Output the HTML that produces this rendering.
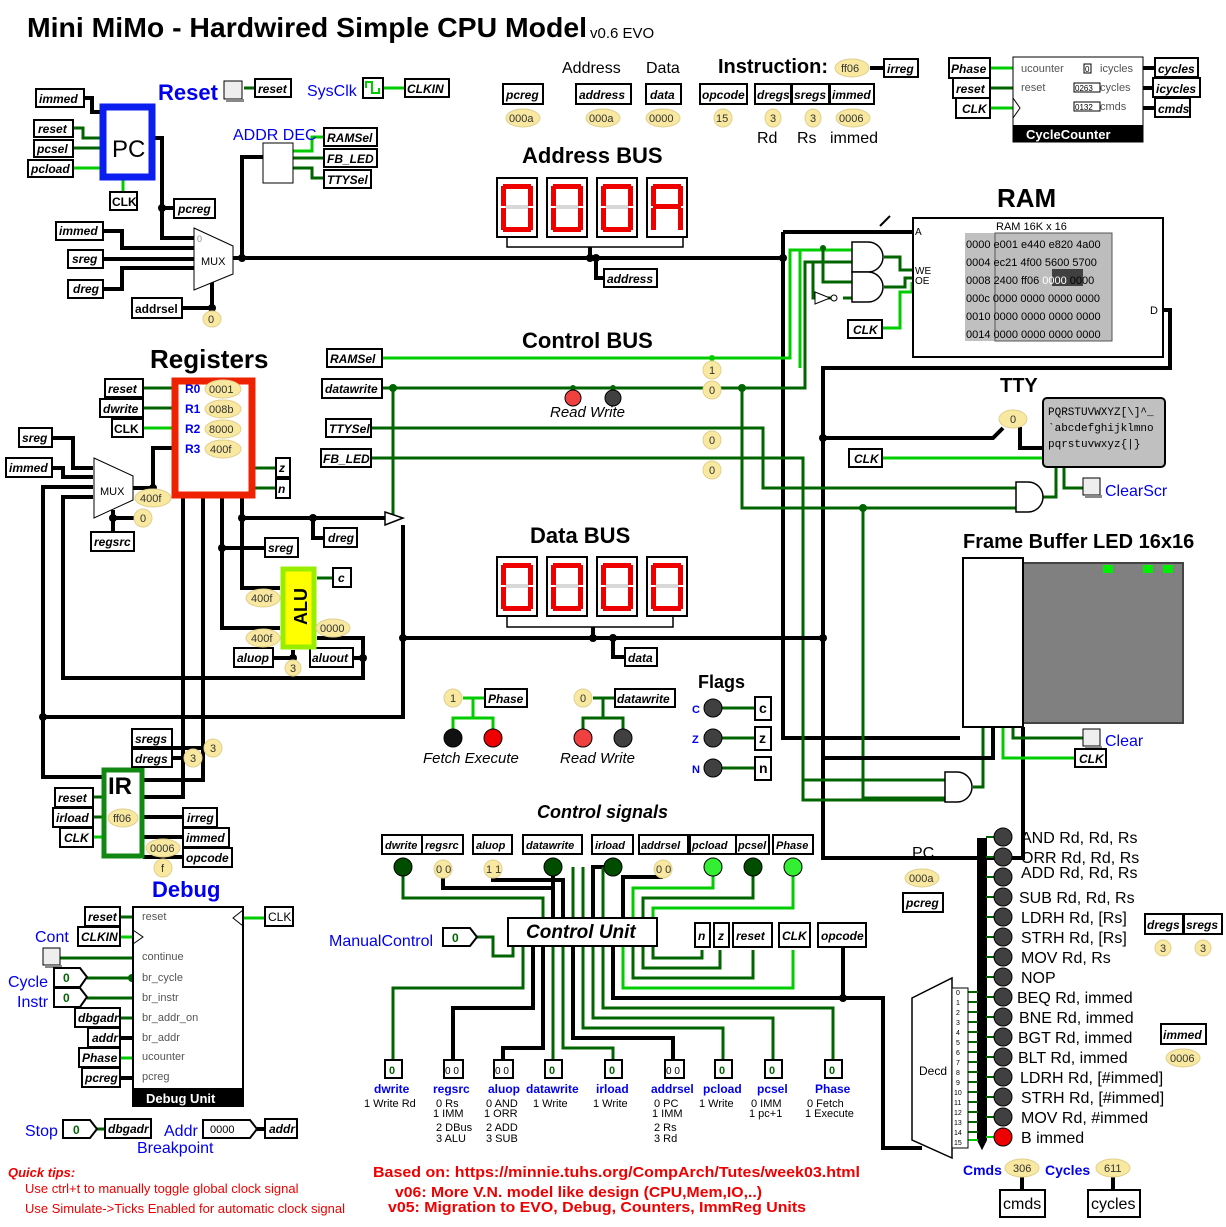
<!DOCTYPE html>
<html><head><meta charset="utf-8"><style>
body{margin:0;background:#fff}
svg{display:block;font-family:"Liberation Sans",sans-serif}
.t{fill:#fff;stroke:#000;stroke-width:2}
.tt{font-style:italic;font-weight:bold;font-size:12px}
.p{fill:#f8e8a0;stroke:#e0d090;stroke-width:1}
.pt{font-size:11px;fill:#333}
.b{stroke:#000;stroke-width:4;fill:none}
.g{stroke:#006400;stroke-width:3;fill:none}
.G{stroke:#00cc00;stroke-width:3;fill:none}
.seg{fill:#ee0000}
.segoff{fill:#d8d8d8}
</style></head><body>
<svg width="1226" height="1227" viewBox="0 0 1226 1227" xmlns="http://www.w3.org/2000/svg">
<!-- Title -->
<text x="27" y="37" font-size="28" font-weight="bold" textLength="560" lengthAdjust="spacingAndGlyphs">Mini MiMo - Hardwired Simple CPU Model</text>
<text x="590" y="38" font-size="15">v0.6 EVO</text>

<!-- ===== WIRES ===== -->
<polyline class="b" points="84,98 92,98 92,112 102,112"/>
<polyline class="g" points="73,128 83,128 83,138 102,138"/>
<polyline class="g" points="73,148 102,148"/>
<polyline class="G" points="73,168 102,168"/>
<polyline class="G" points="123,192 123,172"/>
<polyline class="b" points="155,138 162,138 162,238 196,238"/>
<line class="b" x1="162" y1="208" x2="174" y2="208"/>
<circle cx="162" cy="208" r="4"/>
<polyline class="b" points="103,231 122,231 122,248 196,248"/>
<polyline class="b" points="103,259 196,259"/>
<polyline class="b" points="103,289 122,289 122,268 196,268"/>
<polyline class="b" points="182,308 212,308 212,282"/>
<circle cx="212" cy="308" r="4"/>
<line class="b" x1="233" y1="258" x2="785" y2="258"/>
<circle cx="242" cy="258" r="4"/>
<polyline class="b" points="242,258 242,157 264,157"/>
<polyline class="G" points="292,151 312,151 312,137 324,137"/>
<polyline class="g" points="292,158 324,158"/>
<polyline class="g" points="292,168 312,168 312,178 324,178"/>
<line class="g" x1="244" y1="88" x2="255" y2="88"/>
<line class="G" x1="383" y1="88" x2="405" y2="88"/>
<polyline points="507,237 507,247 683,247 683,237" fill="none" stroke="#000" stroke-width="1.5"/>
<polyline class="b" points="590,247 590,258"/>
<polyline class="b" points="596,258 596,278 604,278"/>
<circle cx="590" cy="258" r="4"/><circle cx="596" cy="258" r="4"/>
<circle cx="783" cy="258" r="4"/>
<polyline class="b" points="783,232 783,738 960,738"/>
<polyline class="b" points="783,232 912,232"/>
<line x1="880" y1="226" x2="890" y2="216" stroke="#000" stroke-width="2"/>
<polyline class="b" points="1163,310 1170,310 1170,368 823,368 823,858 1023,858 1023,727"/>
<polyline class="b" points="823,438 993,438 1003,428"/>
<polyline class="b" points="1020,427 1020,448 1043,448"/>
<circle cx="823" cy="438" r="4"/><circle cx="823" cy="638" r="4"/>
<polyline class="G" points="382,358 790,358 790,250 852,250"/>
<polyline class="g" points="382,388 805,388 805,262 852,262"/>
<circle cx="712" cy="358" r="3" fill="#00cc00"/>
<circle cx="393" cy="388" r="4" fill="#006400"/>
<circle cx="573" cy="388" r="3" fill="#006400"/><circle cx="613" cy="388" r="3" fill="#006400"/>
<line class="g" x1="573" y1="388" x2="573" y2="398"/><line class="g" x1="613" y1="388" x2="613" y2="398"/>
<circle cx="742" cy="388" r="4" fill="#006400"/>
<polyline class="g" points="742,388 742,508 1016,508"/>
<polyline class="g" points="371,428 763,428 763,488 1016,488"/>
<polyline class="g" points="371,458 803,458 803,800 947,800"/>
<polyline class="g" points="393,388 393,518"/>
<polyline class="g" points="823,248 823,282 852,282"/>
<circle cx="823" cy="248" r="3" fill="#006400"/>
<polyline class="g" points="813,262 813,298 834,298"/>
<polyline class="g" points="843,298 852,298"/>
<polyline class="G" points="800,250 800,368" />
<polyline class="G" points="880,328 900,328 900,292 912,292 912,282"/>
<polyline class="g" points="884,257 900,257 900,270 912,270"/>
<polyline class="g" points="884,287 905,287 905,278 912,278"/>
<polyline class="G" points="882,458 1045,458"/>
<polyline class="g" points="1040,497 1056,497 1056,467"/>
<polyline class="g" points="1064,467 1064,488 1083,488"/>
<circle cx="863" cy="508" r="4" fill="#006400"/>
<polyline class="g" points="863,508 863,798 947,798"/>
<polyline class="g" points="803,780 947,780"/>
<polyline class="g" points="973,787 983,787 983,727"/>
<polyline class="b" points="993,727 993,758 823,758"/>
<polyline class="g" points="1013,727 1013,738 1083,738"/>
<polyline class="G" points="1003,727 1003,758 1075,758"/>
<line class="b" x1="403" y1="638" x2="823" y2="638"/>
<polyline points="507,617 507,627 673,627 673,617" fill="none" stroke="#000" stroke-width="1.5"/>
<polyline class="b" points="593,627 593,638"/>
<polyline class="b" points="613,638 613,657 625,657"/>
<circle cx="593" cy="638" r="4"/><circle cx="613" cy="638" r="4"/><circle cx="403" cy="638" r="4"/>
<polyline class="b" points="403,525 403,717 43,717 43,487 93,487"/>
<polyline class="b" points="43,717 43,777 102,777"/>
<circle cx="43" cy="717" r="4"/>
<polyline class="g" points="143,388 174,388"/>
<polyline class="g" points="143,408 174,408"/>
<polyline class="G" points="143,428 174,428"/>
<polyline class="b" points="52,438 73,438 73,468 93,468"/>
<polyline class="b" points="52,468 63,468 63,477 93,477"/>
<polyline class="b" points="133,488 153,488 153,448 174,448"/>
<circle cx="153" cy="488" r="4"/>
<polyline class="b" points="113,510 113,518 134,518"/><circle cx="113" cy="518" r="4"/>
<line class="b" x1="113" y1="518" x2="113" y2="532"/>
<polyline class="g" points="254,468 276,468"/><polyline class="g" points="254,488 276,488"/>
<line class="b" x1="183" y1="498" x2="183" y2="717"/>
<polyline class="b" points="203,498 203,748 172,748"/>
<polyline class="b" points="203,498 203,780 143,780"/>
<polyline class="b" points="183,717 183,758 172,758"/>
<polyline class="b" points="183,758 183,797 143,797"/>
<polyline class="b" points="222,498 222,548 265,548"/>
<polyline class="b" points="222,548 222,628 280,628"/>
<circle cx="222" cy="548" r="4"/>
<polyline class="b" points="242,498 242,518 385,518"/>
<polyline class="b" points="242,518 242,588 280,588"/>
<circle cx="242" cy="518" r="4"/><circle cx="313" cy="518" r="4"/>
<polyline class="b" points="313,518 313,538 324,538"/>
<polyline class="g" points="317,578 333,578"/>
<polyline class="b" points="317,638 363,638 363,678 63,678 63,497 93,497"/>
<line class="b" x1="353" y1="658" x2="363" y2="658"/><circle cx="363" cy="658" r="4"/>
<polyline class="b" points="273,658 293,658 293,650"/><circle cx="293" cy="658" r="4"/>
<polyline class="g" points="93,797 102,797"/>
<polyline class="g" points="93,817 102,817"/>
<polyline class="G" points="93,837 102,837"/>
<polyline class="b" points="143,817 183,817"/>
<polyline class="b" points="143,837 183,837"/>
<polyline class="b" points="143,857 183,857"/>
<line class="g" x1="120" y1="917" x2="132" y2="917"/>
<line class="G" x1="120" y1="937" x2="132" y2="937"/>
<line class="g" x1="60" y1="958" x2="132" y2="958"/>
<line class="g" x1="87" y1="978" x2="132" y2="978"/><circle cx="132" cy="978" r="4" fill="#006400"/>
<line class="g" x1="87" y1="998" x2="132" y2="998"/>
<line class="g" x1="120" y1="1018" x2="132" y2="1018"/>
<line class="b" x1="120" y1="1038" x2="132" y2="1038"/>
<line class="G" x1="120" y1="1058" x2="132" y2="1058"/>
<line class="b" x1="120" y1="1078" x2="132" y2="1078"/>
<line class="G" x1="243" y1="918" x2="265" y2="918"/>
<line class="g" x1="97" y1="1129" x2="105" y2="1129"/>
<line class="b" x1="257" y1="1129" x2="265" y2="1129"/>
<polyline class="G" points="463,698 485,698"/>
<polyline class="G" points="473,698 473,718 453,718 453,730"/>
<polyline class="G" points="473,718 493,718 493,730"/>
<polyline class="g" points="593,698 615,698"/>
<polyline class="g" points="603,698 603,718 583,718 583,730"/>
<polyline class="g" points="603,718 623,718 623,730"/>
<line class="g" x1="713" y1="708" x2="755" y2="708"/>
<line class="g" x1="713" y1="738" x2="755" y2="738"/>
<line class="g" x1="713" y1="768" x2="755" y2="768"/>
<polyline class="g" points="403,867 403,898 543,898 543,918"/>
<polyline class="b" points="443,867 443,888 553,888 553,918"/>
<polyline class="b" points="493,867 493,880 563,880 563,918"/>
<line class="b" x1="553" y1="867" x2="553" y2="918"/>
<polyline class="g" points="573,867 573,918"/>
<polyline class="g" points="583,867 583,918"/>
<polyline class="b" points="613,867 593,867 593,918"/>
<polyline class="g" points="603,867 603,918"/>
<polyline class="b" points="663,877 623,877 623,918"/>
<polyline class="G" points="713,875 713,888 633,888 633,918"/>
<polyline class="g" points="753,875 753,898 643,898 643,918"/>
<polyline class="G" points="793,875 793,908 653,908 653,918"/>
<polyline class="g" points="477,937 493,937 493,956 513,956 513,946"/>
<polyline class="g" points="523,946 523,988 393,988 393,1060"/>
<polyline class="b" points="533,946 533,1008 453,1008 453,1060"/>
<polyline class="b" points="543,946 543,1048 503,1048 503,1060"/>
<polyline class="g" points="553,946 553,1060"/>
<polyline class="g" points="563,946 563,1048 613,1048 613,1060"/>
<polyline class="b" points="573,946 573,1038 673,1038 673,1060"/>
<polyline class="g" points="583,946 583,1028 723,1028 723,1060"/>
<polyline class="g" points="593,946 593,1018 773,1018 773,1060"/>
<polyline class="g" points="603,946 603,1008 833,1008 833,1060"/>
<polyline class="b" points="613,946 613,998 883,998 883,1148 922,1148"/>
<polyline class="G" points="623,946 623,988 793,988 793,950"/>
<polyline class="g" points="633,946 633,978 753,978 753,950"/>
<polyline class="g" points="643,946 643,968 720,968 720,950"/>
<polyline class="g" points="653,946 653,958 702,958 702,950"/>
<polyline class="b" points="843,946 843,998"/><circle cx="843" cy="998" r="4"/>
<polyline points="978,838 978,1140 982,1148 986,1140 986,838" fill="#000" stroke="#000" stroke-width="2"/>
<g stroke="#006400" stroke-width="2">
<line x1="968" y1="992" x2="978" y2="992"/><line x1="968" y1="1002" x2="978" y2="1002"/><line x1="968" y1="1012" x2="978" y2="1012"/><line x1="968" y1="1022" x2="978" y2="1022"/><line x1="968" y1="1032" x2="978" y2="1032"/><line x1="968" y1="1042" x2="978" y2="1042"/><line x1="968" y1="1052" x2="978" y2="1052"/><line x1="968" y1="1062" x2="978" y2="1062"/><line x1="968" y1="1072" x2="978" y2="1072"/><line x1="968" y1="1082" x2="978" y2="1082"/><line x1="968" y1="1092" x2="978" y2="1092"/><line x1="968" y1="1102" x2="978" y2="1102"/><line x1="968" y1="1112" x2="978" y2="1112"/><line x1="968" y1="1122" x2="978" y2="1122"/><line x1="968" y1="1132" x2="978" y2="1132"/>
<line x1="986" y1="837" x2="1003" y2="837"/><line x1="986" y1="857" x2="1003" y2="857"/><line x1="986" y1="877" x2="1003" y2="877"/><line x1="986" y1="897" x2="1003" y2="897"/><line x1="986" y1="917" x2="1003" y2="917"/><line x1="986" y1="937" x2="1003" y2="937"/><line x1="986" y1="957" x2="1003" y2="957"/><line x1="986" y1="977" x2="1003" y2="977"/><line x1="986" y1="997" x2="1003" y2="997"/><line x1="986" y1="1017" x2="1003" y2="1017"/><line x1="986" y1="1037" x2="1003" y2="1037"/><line x1="986" y1="1057" x2="1003" y2="1057"/><line x1="986" y1="1077" x2="1003" y2="1077"/><line x1="986" y1="1097" x2="1003" y2="1097"/><line x1="986" y1="1117" x2="1003" y2="1117"/>
</g>
<line x1="968" y1="1140" x2="978" y2="1140" stroke="#00cc00" stroke-width="2"/>
<line x1="986" y1="1137" x2="1003" y2="1137" stroke="#00cc00" stroke-width="2"/>
<line class="b" x1="1022" y1="1176" x2="1022" y2="1190"/>
<line class="b" x1="1113" y1="1176" x2="1113" y2="1190"/>
<line class="b" x1="870" y1="68" x2="884" y2="68"/>
<line class="G" x1="990" y1="68" x2="1013" y2="68"/>
<line class="g" x1="990" y1="88" x2="1013" y2="88"/>
<line class="G" x1="990" y1="108" x2="1013" y2="108"/>
<line class="b" x1="1143" y1="68" x2="1155" y2="68"/>
<line class="b" x1="1143" y1="88" x2="1153" y2="88"/>
<line class="b" x1="1143" y1="108" x2="1155" y2="108"/>

<!-- ===== COMPONENTS ===== -->
<g class="tt">
<rect class="t" x="36" y="89" width="48" height="18"/><text x="39" y="103">immed</text>
<rect class="t" x="34" y="120" width="39" height="17"/><text x="38" y="133">reset</text>
<rect class="t" x="34" y="140" width="39" height="17"/><text x="37" y="153">pcsel</text>
<rect class="t" x="28" y="160" width="45" height="17"/><text x="31" y="173">pcload</text>
<rect class="t" x="174" y="199" width="41" height="19"/><text x="178" y="213">pcreg</text>
<rect class="t" x="56" y="222" width="47" height="18"/><text x="59" y="235">immed</text>
<rect class="t" x="68" y="250" width="35" height="18"/><text x="72" y="263">sreg</text>
<rect class="t" x="68" y="280" width="35" height="18"/><text x="73" y="293">dreg</text>
<rect class="t" x="255" y="79" width="36" height="18"/><text x="258" y="93">reset</text>
<rect class="t" x="405" y="79" width="44" height="18"/><text x="407" y="93">CLKIN</text>
<rect class="t" x="324" y="128" width="53" height="18"/><text x="327" y="142">RAMSel</text>
<rect class="t" x="324" y="149" width="53" height="18"/><text x="327" y="163">FB_LED</text>
<rect class="t" x="324" y="170" width="47" height="18"/><text x="327" y="184">TTYSel</text>
<rect class="t" x="884" y="59" width="34" height="18"/><text x="887" y="73">irreg</text>
</g>
<rect class="t" x="110" y="192" width="27" height="18"/><text x="112" y="206" font-size="12" font-weight="bold">CLK</text>
<rect class="t" x="132" y="298" width="50" height="20"/><text x="135" y="313" font-size="12" font-weight="bold">addrsel</text>
<ellipse class="p" cx="212" cy="319" rx="9" ry="8"/><text class="pt" x="208" y="323">0</text>
<rect x="103" y="107" width="49" height="70" fill="#fff" stroke="#0a1ef0" stroke-width="7"/>
<text x="112" y="157" font-size="24">PC</text>
<text x="158" y="100" font-size="22" font-weight="bold" fill="#0000ee">Reset</text>
<rect x="224" y="81" width="18" height="18" fill="#eee" stroke="#000"/><rect x="226" y="99" width="18" height="3" fill="#888"/>
<text x="307" y="96" font-size="16" fill="#0000ee">SysClk</text>
<rect x="363" y="78" width="20" height="20" fill="#fff" stroke="#000" stroke-width="2"/>
<polyline points="366,88 366,82 372,82 372,93 379,93 379,88" fill="none" stroke="#00cc00" stroke-width="2"/>
<text x="233" y="140" font-size="16" fill="#0000ee">ADDR DEC</text>
<rect x="263" y="143" width="30" height="40" fill="#fff" stroke="#000"/>
<polygon points="194,228 233,246 233,274 194,290" fill="#fff" stroke="#000"/>
<text x="201" y="265" font-size="11">MUX</text><text x="197" y="242" font-size="9" fill="#888">0</text>

<text x="562" y="73" font-size="16">Address</text>
<text x="646" y="73" font-size="16">Data</text>
<text x="718" y="73" font-size="20" font-weight="bold">Instruction:</text>
<ellipse class="p" cx="852" cy="68" rx="17" ry="9"/><text class="pt" x="841" y="72">ff06</text>
<g class="tt">
<rect class="t" x="503" y="84" width="40" height="20"/><text x="506" y="99">pcreg</text>
<rect class="t" x="576" y="84" width="55" height="20"/><text x="579" y="99">address</text>
<rect class="t" x="646" y="84" width="35" height="20"/><text x="650" y="99">data</text>
<rect class="t" x="700" y="84" width="47" height="20"/><text x="702" y="99">opcode</text>
<rect class="t" x="755" y="84" width="36" height="20"/><text x="757" y="99">dregs</text>
<rect class="t" x="792" y="84" width="37" height="20"/><text x="794" y="99">sregs</text>
<rect class="t" x="830" y="84" width="44" height="20"/><text x="832" y="99">immed</text>
</g>
<ellipse class="p" cx="523" cy="118" rx="17" ry="9"/><text class="pt" x="509" y="122">000a</text>
<ellipse class="p" cx="603" cy="118" rx="17" ry="9"/><text class="pt" x="589" y="122">000a</text>
<ellipse class="p" cx="663" cy="118" rx="17" ry="9"/><text class="pt" x="649" y="122">0000</text>
<ellipse class="p" cx="723" cy="118" rx="9" ry="9"/><text class="pt" x="716" y="122">15</text>
<ellipse class="p" cx="773" cy="118" rx="8" ry="9"/><text class="pt" x="770" y="122">3</text>
<ellipse class="p" cx="813" cy="118" rx="8" ry="9"/><text class="pt" x="810" y="122">3</text>
<ellipse class="p" cx="853" cy="118" rx="17" ry="9"/><text class="pt" x="839" y="122">0006</text>
<text x="757" y="143" font-size="16">Rd</text><text x="797" y="143" font-size="16">Rs</text><text x="830" y="143" font-size="16">immed</text>

<rect x="1013" y="57" width="130" height="85" fill="#fff" stroke="#000"/>
<rect x="1013" y="125" width="130" height="17" fill="#000"/>
<text x="1026" y="139" font-size="13" font-weight="bold" fill="#fff">CycleCounter</text>
<text x="1021" y="72" font-size="11" fill="#555">ucounter</text>
<text x="1021" y="91" font-size="11" fill="#555">reset</text>
<text x="1100" y="72" font-size="11" fill="#555">icycles</text>
<text x="1100" y="91" font-size="11" fill="#555">cycles</text>
<text x="1100" y="110" font-size="11" fill="#555">cmds</text>
<rect x="1084" y="64" width="7" height="9" fill="none" stroke="#000"/><text x="1085" y="72" font-size="8">0</text>
<rect x="1074" y="83" width="26" height="9" fill="none" stroke="#000"/><text x="1075" y="91" font-size="8">0263</text>
<rect x="1074" y="102" width="26" height="9" fill="none" stroke="#000"/><text x="1075" y="110" font-size="8">0132</text>
<polyline points="1013,98 1020,108 1013,118" fill="none" stroke="#000"/>
<g class="tt">
<rect class="t" x="949" y="58" width="41" height="20"/><text x="951" y="73">Phase</text>
<rect class="t" x="953" y="78" width="37" height="20"/><text x="956" y="93">reset</text>
<rect class="t" x="956" y="98" width="34" height="20"/><text x="962" y="113">CLK</text>
<rect class="t" x="1155" y="58" width="43" height="19"/><text x="1158" y="73">cycles</text>
<rect class="t" x="1153" y="78" width="47" height="19"/><text x="1156" y="93">icycles</text>
<rect class="t" x="1155" y="98" width="35" height="19"/><text x="1158" y="113">cmds</text>
</g>

<text x="522" y="163" font-size="22" font-weight="bold">Address BUS</text>
<g id="d0">
<rect x="497" y="178" width="40" height="59" fill="#fff" stroke="#000" stroke-width="2"/>
<rect x="503" y="184" width="28" height="5" class="seg"/><rect x="503" y="227" width="28" height="5" class="seg"/>
<rect x="505" y="205" width="24" height="4" class="segoff"/>
<rect x="501" y="186" width="5" height="20" class="seg"/><rect x="528" y="186" width="5" height="20" class="seg"/>
<rect x="501" y="208" width="5" height="22" class="seg"/><rect x="528" y="208" width="5" height="22" class="seg"/>
</g>
<use href="#d0" x="50"/><use href="#d0" x="100"/>
<rect x="647" y="178" width="40" height="59" fill="#fff" stroke="#000" stroke-width="2"/>
<rect x="653" y="184" width="28" height="5" class="seg"/><rect x="653" y="204" width="28" height="5" class="seg"/>
<rect x="651" y="186" width="5" height="20" class="seg"/><rect x="678" y="186" width="5" height="20" class="seg"/>
<rect x="651" y="208" width="5" height="22" class="seg"/><rect x="678" y="208" width="5" height="22" class="seg"/>
<rect class="t" x="604" y="269" width="53" height="18"/><text class="tt" x="607" y="283">address</text>

<text x="997" y="207" font-size="26" font-weight="bold">RAM</text>
<rect x="913" y="218" width="250" height="139" fill="#fff" stroke="#000" stroke-width="2"/>
<text x="996" y="230" font-size="11">RAM 16K x 16</text>
<rect x="965" y="233" width="147" height="108" fill="#c0c0c0"/>
<rect x="995" y="233" width="117" height="108" fill="#bdbdbd" stroke="#555"/>
<rect x="1052" y="269" width="31" height="17" fill="#404040"/>
<g font-size="11">
<text x="966" y="248">0000 e001 e440 e820 4a00</text>
<text x="966" y="266">0004 ec21  4f00 5600 5700</text>
<text x="966" y="284">0008 2400  ff06 <tspan fill="#fff">0000</tspan> 0000</text>
<text x="966" y="302">000c 0000 0000 0000 0000</text>
<text x="966" y="320">0010 0000 0000 0000 0000</text>
<text x="966" y="338">0014 0000 0000 0000 0000</text>
</g>
<text x="915" y="235" font-size="10">A</text><text x="915" y="274" font-size="10">WE</text><text x="915" y="284" font-size="10">OE</text>
<text x="1150" y="314" font-size="11">D</text>
<path d="M852,242 h16 a15,15 0 0 1 0,30 h-16 z" fill="#fff" stroke="#000" stroke-width="1.5"/>
<path d="M852,272 h16 a15,15 0 0 1 0,30 h-16 z" fill="#fff" stroke="#000" stroke-width="1.5"/>
<polygon points="815,292 830,298 815,304" fill="#fff" stroke="#000"/><circle cx="834" cy="298" r="3" fill="#fff" stroke="#000"/>
<rect class="t" x="848" y="320" width="34" height="18"/><text class="tt" x="853" y="334">CLK</text>

<text x="522" y="348" font-size="22" font-weight="bold">Control BUS</text>
<g class="tt">
<rect class="t" x="327" y="349" width="55" height="18"/><text x="330" y="363">RAMSel</text>
<rect class="t" x="322" y="379" width="60" height="19"/><text x="325" y="393">datawrite</text>
<rect class="t" x="326" y="419" width="45" height="18"/><text x="329" y="433">TTYSel</text>
<rect class="t" x="321" y="449" width="50" height="18"/><text x="323" y="463">FB_LED</text>
</g>
<circle cx="573" cy="398" r="8" fill="#f04040" stroke="#000"/><circle cx="613" cy="398" r="8" fill="#404040" stroke="#000"/>
<text x="550" y="417" font-size="15" font-style="italic">Read Write</text>
<ellipse class="p" cx="712" cy="370" rx="9" ry="9"/><text class="pt" x="709" y="374">1</text>
<ellipse class="p" cx="712" cy="390" rx="9" ry="9"/><text class="pt" x="709" y="394">0</text>
<ellipse class="p" cx="712" cy="440" rx="9" ry="9"/><text class="pt" x="709" y="444">0</text>
<ellipse class="p" cx="712" cy="470" rx="9" ry="9"/><text class="pt" x="709" y="474">0</text>

<text x="1000" y="392" font-size="20" font-weight="bold">TTY</text>
<ellipse class="p" cx="1013" cy="419" rx="14" ry="9"/><text class="pt" x="1010" y="423">0</text>
<rect x="1043" y="398" width="122" height="69" rx="4" fill="#c0c0c0" stroke="#000" stroke-width="2"/>
<g font-family="Liberation Mono,monospace" font-size="11">
<text x="1048" y="415">PQRSTUVWXYZ[\]^_</text>
<text x="1048" y="431">`abcdefghijklmno</text>
<text x="1048" y="447">pqrstuvwxyz{|}</text>
</g>
<rect class="t" x="849" y="449" width="33" height="18"/><text class="tt" x="854" y="463">CLK</text>
<path d="M1016,482 h12 a15,15 0 0 1 0,30 h-12 z" fill="#fff" stroke="#000" stroke-width="1.5"/>
<rect x="1083" y="478" width="17" height="17" fill="#eee" stroke="#000"/><rect x="1085" y="495" width="17" height="3" fill="#888"/>
<text x="1105" y="496" font-size="16" fill="#0000ee">ClearScr</text>

<text x="963" y="548" font-size="20" font-weight="bold">Frame Buffer LED 16x16</text>
<rect x="1023" y="563" width="160" height="160" fill="#808080" stroke="#444" stroke-width="2"/>
<rect x="963" y="558" width="60" height="169" fill="#fff" stroke="#000" stroke-width="2"/>
<rect x="1103" y="565" width="10" height="8" fill="#00ee00"/><rect x="1143" y="565" width="10" height="8" fill="#00ee00"/><rect x="1163" y="565" width="10" height="8" fill="#00ee00"/>
<rect x="1083" y="729" width="17" height="17" fill="#eee" stroke="#000"/><rect x="1085" y="746" width="17" height="3" fill="#888"/>
<text x="1105" y="746" font-size="16" fill="#0000ee">Clear</text>
<rect class="t" x="1075" y="749" width="31" height="18"/><text class="tt" x="1079" y="763">CLK</text>
<path d="M945,772 h12 a15,15 0 0 1 0,30 h-12 z" fill="#fff" stroke="#000" stroke-width="1.5"/>

<text x="530" y="543" font-size="22" font-weight="bold">Data BUS</text>
<use href="#d0" y="379"/><use href="#d0" x="50" y="379"/><use href="#d0" x="100" y="379"/><use href="#d0" x="150" y="379"/>
<rect class="t" x="625" y="648" width="32" height="18"/><text class="tt" x="628" y="662">data</text>

<text x="150" y="368" font-size="26" font-weight="bold">Registers</text>
<rect x="175" y="381" width="77" height="114" fill="#fff" stroke="#ee2200" stroke-width="7"/>
<g font-size="12" font-weight="bold" fill="#0000ee">
<text x="185" y="393">R0</text><text x="185" y="413">R1</text><text x="185" y="433">R2</text><text x="185" y="453">R3</text></g>
<ellipse class="p" cx="223" cy="389" rx="18" ry="9"/><text class="pt" x="209" y="393">0001</text>
<ellipse class="p" cx="223" cy="409" rx="18" ry="9"/><text class="pt" x="209" y="413">008b</text>
<ellipse class="p" cx="223" cy="429" rx="18" ry="9"/><text class="pt" x="209" y="433">8000</text>
<ellipse class="p" cx="223" cy="449" rx="18" ry="9"/><text class="pt" x="210" y="453">400f</text>
<g class="tt">
<rect class="t" x="105" y="379" width="38" height="18"/><text x="108" y="393">reset</text>
<rect class="t" x="100" y="399" width="43" height="18"/><text x="103" y="413">dwrite</text>
<rect class="t" x="19" y="428" width="33" height="19"/><text x="22" y="442">sreg</text>
<rect class="t" x="6" y="458" width="46" height="19"/><text x="9" y="472">immed</text>
<rect class="t" x="276" y="458" width="14" height="19"/><text x="279" y="472">z</text>
<rect class="t" x="276" y="479" width="14" height="19"/><text x="278" y="493">n</text>
<rect class="t" x="91" y="532" width="43" height="19"/><text x="94" y="546">regsrc</text>
<rect class="t" x="265" y="538" width="33" height="19"/><text x="268" y="552">sreg</text>
<rect class="t" x="324" y="528" width="33" height="19"/><text x="328" y="542">dreg</text>
<rect class="t" x="333" y="568" width="18" height="19"/><text x="338" y="582">c</text>
<rect class="t" x="234" y="648" width="39" height="19"/><text x="237" y="662">aluop</text>
<rect class="t" x="310" y="648" width="43" height="19"/><text x="312" y="662">aluout</text>
</g>
<rect class="t" x="112" y="419" width="31" height="18"/><text x="114" y="433" font-size="12" font-weight="bold">CLK</text>
<polygon points="94,458 133,476 133,500 94,518" fill="#fff" stroke="#000"/>
<text x="100" y="495" font-size="11">MUX</text>
<ellipse class="p" cx="153" cy="498" rx="18" ry="9"/><text class="pt" x="140" y="502">400f</text>
<ellipse class="p" cx="143" cy="518" rx="9" ry="9"/><text class="pt" x="140" y="522">0</text>
<rect x="283" y="569" width="31" height="78" fill="#ffff00" stroke="#99ee00" stroke-width="5"/>
<text x="307" y="625" font-size="18" font-weight="bold" transform="rotate(-90 307 625)">ALU</text>
<ellipse class="p" cx="263" cy="598" rx="17" ry="9"/><text class="pt" x="251" y="602">400f</text>
<ellipse class="p" cx="263" cy="638" rx="17" ry="9"/><text class="pt" x="251" y="642">400f</text>
<ellipse class="p" cx="333" cy="628" rx="17" ry="9"/><text class="pt" x="320" y="632">0000</text>
<ellipse class="p" cx="293" cy="668" rx="8" ry="8"/><text class="pt" x="290" y="672">3</text>
<polygon points="385,512 403,518 385,525" fill="#fff" stroke="#000" stroke-width="1.5"/>

<rect x="104" y="770" width="38" height="86" fill="#fff" stroke="#118811" stroke-width="5"/>
<text x="108" y="794" font-size="24" font-weight="bold">IR</text>
<ellipse class="p" cx="123" cy="818" rx="15" ry="9"/><text class="pt" x="113" y="822">ff06</text>
<g class="tt">
<rect class="t" x="132" y="729" width="40" height="18"/><text x="135" y="743">sregs</text>
<rect class="t" x="132" y="749" width="40" height="18"/><text x="135" y="763">dregs</text>
<rect class="t" x="55" y="788" width="38" height="19"/><text x="58" y="802">reset</text>
<rect class="t" x="53" y="808" width="40" height="19"/><text x="56" y="822">irload</text>
<rect class="t" x="60" y="828" width="33" height="19"/><text x="64" y="842">CLK</text>
<rect class="t" x="183" y="808" width="34" height="19"/><text x="187" y="822">irreg</text>
<rect class="t" x="183" y="828" width="46" height="19"/><text x="186" y="842">immed</text>
<rect class="t" x="183" y="848" width="49" height="19"/><text x="186" y="862">opcode</text>
</g>
<ellipse class="p" cx="193" cy="758" rx="9" ry="9"/><text class="pt" x="190" y="762">3</text>
<ellipse class="p" cx="213" cy="748" rx="9" ry="9"/><text class="pt" x="210" y="752">3</text>
<ellipse class="p" cx="163" cy="848" rx="17" ry="9"/><text class="pt" x="150" y="852">0006</text>
<ellipse class="p" cx="163" cy="868" rx="9" ry="9"/><text class="pt" x="161" y="872">f</text>

<text x="152" y="897" font-size="22" font-weight="bold" fill="#0000ee">Debug</text>
<rect x="133" y="907" width="110" height="199" fill="#fff" stroke="#000" stroke-width="2"/>
<rect x="133" y="1088" width="110" height="18" fill="#000"/>
<text x="146" y="1103" font-size="13" font-weight="bold" fill="#fff">Debug Unit</text>
<g font-size="11" fill="#555">
<text x="142" y="920">reset</text><text x="142" y="960">continue</text><text x="142" y="981">br_cycle</text><text x="142" y="1001">br_instr</text><text x="142" y="1021">br_addr_on</text><text x="142" y="1041">br_addr</text><text x="142" y="1060">ucounter</text><text x="142" y="1080">pcreg</text></g>
<polyline points="243,910 233,918 243,926" fill="none" stroke="#000"/>
<polyline points="133,930 143,937 133,944" fill="none" stroke="#000"/>
<g class="tt">
<rect class="t" x="85" y="907" width="35" height="19"/><text x="88" y="921">reset</text>
<rect class="t" x="78" y="927" width="42" height="19"/><text x="81" y="941">CLKIN</text>
<rect class="t" x="75" y="1008" width="45" height="19"/><text x="78" y="1022">dbgadr</text>
<rect class="t" x="88" y="1028" width="32" height="19"/><text x="92" y="1042">addr</text>
<rect class="t" x="79" y="1048" width="41" height="19"/><text x="82" y="1062">Phase</text>
<rect class="t" x="82" y="1068" width="38" height="19"/><text x="85" y="1082">pcreg</text>
<rect class="t" x="105" y="1119" width="46" height="19"/><text x="108" y="1133">dbgadr</text>
<rect class="t" x="265" y="1119" width="32" height="19"/><text x="269" y="1133">addr</text>
</g>
<rect class="t" x="265" y="907" width="28" height="19"/><text x="268" y="921" font-size="12">CLK</text>
<text x="35" y="942" font-size="16" fill="#0000ee">Cont</text>
<rect x="43" y="948" width="17" height="17" fill="#eee" stroke="#000"/><rect x="45" y="965" width="17" height="3" fill="#888"/>
<text x="8" y="987" font-size="16" fill="#0000ee">Cycle</text>
<text x="17" y="1007" font-size="16" fill="#0000ee">Instr</text>
<polygon points="54,968 80,968 87,977 80,987 54,987" fill="#fff" stroke="#000" stroke-width="2"/><text x="63" y="982" font-size="12" fill="#006400" font-weight="bold">0</text>
<polygon points="54,988 80,988 87,997 80,1007 54,1007" fill="#fff" stroke="#000" stroke-width="2"/><text x="63" y="1002" font-size="12" fill="#006400" font-weight="bold">0</text>
<text x="25" y="1136" font-size="16" fill="#0000ee">Stop</text>
<polygon points="63,1120 90,1120 97,1129 90,1138 63,1138" fill="#fff" stroke="#000" stroke-width="2"/><text x="73" y="1134" font-size="12" fill="#006400" font-weight="bold">0</text>
<text x="164" y="1136" font-size="16" fill="#0000ee">Addr</text>
<polygon points="203,1120 250,1120 257,1129 250,1138 203,1138" fill="#fff" stroke="#000" stroke-width="2"/><text x="210" y="1133" font-size="11">0000</text>
<text x="137" y="1153" font-size="16" fill="#0000ee">Breakpoint</text>

<text x="8" y="1177" font-size="13" font-weight="bold" font-style="italic" fill="#ee0000">Quick tips:</text>
<text x="25" y="1193" font-size="13" fill="#ee0000">Use ctrl+t to manually toggle global clock signal</text>
<text x="25" y="1213" font-size="13" fill="#ee0000">Use Simulate-&gt;Ticks Enabled for automatic clock signal</text>
<text x="373" y="1177" font-size="15" font-weight="bold" fill="#ee0000" textLength="487" lengthAdjust="spacingAndGlyphs">Based on: https://minnie.tuhs.org/CompArch/Tutes/week03.html</text>
<text x="395" y="1197" font-size="15" font-weight="bold" fill="#ee0000" textLength="367" lengthAdjust="spacingAndGlyphs">v06: More V.N. model like design (CPU,Mem,IO,..)</text>
<text x="388" y="1212" font-size="15" font-weight="bold" fill="#ee0000" textLength="418" lengthAdjust="spacingAndGlyphs">v05: Migration to EVO, Debug, Counters, ImmReg Units</text>

<ellipse class="p" cx="453" cy="698" rx="9" ry="9"/><text class="pt" x="450" y="702">1</text>
<rect class="t" x="485" y="689" width="42" height="18"/><text class="tt" x="488" y="703">Phase</text>
<circle cx="453" cy="738" r="9" fill="#111" stroke="#000"/><circle cx="493" cy="738" r="9" fill="#ee0000" stroke="#000"/>
<text x="423" y="763" font-size="15" font-style="italic">Fetch Execute</text>
<ellipse class="p" cx="583" cy="698" rx="9" ry="9"/><text class="pt" x="580" y="702">0</text>
<rect class="t" x="615" y="689" width="60" height="18"/><text class="tt" x="617" y="703">datawrite</text>
<circle cx="583" cy="738" r="9" fill="#f04040" stroke="#000"/><circle cx="623" cy="738" r="9" fill="#404040" stroke="#000"/>
<text x="560" y="763" font-size="15" font-style="italic">Read Write</text>
<text x="698" y="688" font-size="18" font-weight="bold">Flags</text>
<g font-size="11" font-weight="bold" fill="#0000ee"><text x="692" y="713">C</text><text x="692" y="743">Z</text><text x="692" y="773">N</text></g>
<circle cx="713" cy="708" r="9" fill="#404040" stroke="#000"/><circle cx="713" cy="738" r="9" fill="#404040" stroke="#000"/><circle cx="713" cy="768" r="9" fill="#404040" stroke="#000"/>
<rect class="t" x="755" y="697" width="16" height="23"/><text x="759" y="713" font-size="14" font-weight="bold">c</text>
<rect class="t" x="755" y="727" width="16" height="23"/><text x="759" y="743" font-size="14" font-weight="bold">z</text>
<rect class="t" x="755" y="757" width="16" height="23"/><text x="759" y="773" font-size="14" font-weight="bold">n</text>

<text x="537" y="818" font-size="18" font-weight="bold" font-style="italic">Control signals</text>
<g class="tt">
<rect class="t" x="382" y="835" width="40" height="19"/><text x="385" y="849" font-size="11">dwrite</text>
<rect class="t" x="422" y="835" width="41" height="19"/><text x="425" y="849" font-size="11">regsrc</text>
<rect class="t" x="473" y="835" width="39" height="19"/><text x="476" y="849" font-size="11">aluop</text>
<rect class="t" x="523" y="835" width="59" height="19"/><text x="526" y="849" font-size="11">datawrite</text>
<rect class="t" x="592" y="835" width="41" height="19"/><text x="595" y="849" font-size="11">irload</text>
<rect class="t" x="639" y="835" width="49" height="19"/><text x="641" y="849" font-size="11">addrsel</text>
<rect class="t" x="690" y="835" width="46" height="19"/><text x="692" y="849" font-size="11">pcload</text>
<rect class="t" x="736" y="835" width="33" height="19"/><text x="738" y="849" font-size="11">pcsel</text>
<rect class="t" x="773" y="835" width="40" height="19"/><text x="776" y="849" font-size="11">Phase</text>
</g>
<circle cx="403" cy="867" r="9" fill="#004d00" stroke="#000"/>
<ellipse class="p" cx="443" cy="869" rx="9" ry="9"/><text class="pt" x="436" y="873">0 0</text>
<ellipse class="p" cx="493" cy="869" rx="9" ry="9"/><text class="pt" x="486" y="873">1 1</text>
<circle cx="553" cy="867" r="9" fill="#004d00" stroke="#000"/>
<circle cx="613" cy="867" r="9" fill="#004d00" stroke="#000"/>
<ellipse class="p" cx="663" cy="869" rx="9" ry="9"/><text class="pt" x="656" y="873">0 0</text>
<circle cx="713" cy="867" r="9" fill="#33ee33" stroke="#000"/>
<circle cx="753" cy="867" r="9" fill="#004d00" stroke="#000"/>
<circle cx="793" cy="867" r="9" fill="#33ee33" stroke="#000"/>
<rect x="508" y="918" width="149" height="28" fill="#fff" stroke="#000" stroke-width="2"/>
<text x="526" y="938" font-size="19" font-weight="bold" font-style="italic">Control Unit</text>
<text x="329" y="946" font-size="16" fill="#0000ee">ManualControl</text>
<polygon points="443,928 470,928 477,937 470,946 443,946" fill="#fff" stroke="#000" stroke-width="2"/><text x="452" y="942" font-size="12" fill="#006400" font-weight="bold">0</text>
<g class="tt">
<rect class="t" x="695" y="923" width="15" height="24"/><text x="698" y="940">n</text>
<rect class="t" x="714" y="923" width="15" height="24"/><text x="718" y="940">z</text>
<rect class="t" x="733" y="923" width="39" height="24"/><text x="736" y="940">reset</text>
<rect class="t" x="779" y="923" width="31" height="24"/><text x="782" y="940">CLK</text>
<rect class="t" x="818" y="923" width="48" height="24"/><text x="821" y="940">opcode</text>
</g>
<g>
<rect x="385" y="1060" width="17" height="18" fill="#fff" stroke="#000" stroke-width="2"/><text x="389" y="1074" font-size="11" fill="#006400" font-weight="bold">0</text>
<rect x="444" y="1060" width="19" height="18" fill="#fff" stroke="#000" stroke-width="2"/><text x="445" y="1074" font-size="10">0 0</text>
<rect x="494" y="1060" width="19" height="18" fill="#fff" stroke="#000" stroke-width="2"/><text x="495" y="1074" font-size="10">0 0</text>
<rect x="545" y="1060" width="17" height="18" fill="#fff" stroke="#000" stroke-width="2"/><text x="549" y="1074" font-size="11" fill="#006400" font-weight="bold">0</text>
<rect x="605" y="1060" width="17" height="18" fill="#fff" stroke="#000" stroke-width="2"/><text x="609" y="1074" font-size="11" fill="#006400" font-weight="bold">0</text>
<rect x="665" y="1060" width="19" height="18" fill="#fff" stroke="#000" stroke-width="2"/><text x="666" y="1074" font-size="10">0 0</text>
<rect x="715" y="1060" width="17" height="18" fill="#fff" stroke="#000" stroke-width="2"/><text x="719" y="1074" font-size="11" fill="#006400" font-weight="bold">0</text>
<rect x="765" y="1060" width="17" height="18" fill="#fff" stroke="#000" stroke-width="2"/><text x="769" y="1074" font-size="11" fill="#006400" font-weight="bold">0</text>
<rect x="825" y="1060" width="17" height="18" fill="#fff" stroke="#000" stroke-width="2"/><text x="829" y="1074" font-size="11" fill="#006400" font-weight="bold">0</text>
</g>
<g font-size="12" font-weight="bold" fill="#0000ee">
<text x="374" y="1093">dwrite</text><text x="433" y="1093">regsrc</text><text x="488" y="1093">aluop</text><text x="526" y="1093">datawrite</text><text x="596" y="1093">irload</text><text x="651" y="1093">addrsel</text><text x="703" y="1093">pcload</text><text x="757" y="1093">pcsel</text><text x="815" y="1093">Phase</text></g>
<g font-size="11">
<text x="364" y="1107">1 Write Rd</text><text x="436" y="1107">0 Rs</text><text x="433" y="1117">1 IMM</text>
<text x="486" y="1107">0 AND</text><text x="484" y="1117">1 ORR</text>
<text x="533" y="1107">1 Write</text><text x="593" y="1107">1 Write</text>
<text x="654" y="1107">0 PC</text><text x="652" y="1117">1 IMM</text>
<text x="699" y="1107">1 Write</text><text x="751" y="1107">0 IMM</text><text x="749" y="1117">1 pc+1</text>
<text x="807" y="1107">0 Fetch</text><text x="805" y="1117">1 Execute</text>
<text x="436" y="1131">2 DBus</text><text x="436" y="1142">3 ALU</text>
<text x="486" y="1131">2 ADD</text><text x="486" y="1142">3 SUB</text>
<text x="654" y="1131">2 Rs</text><text x="654" y="1142">3 Rd</text>
</g>

<text x="912" y="858" font-size="16">PC</text>
<ellipse class="p" cx="922" cy="878" rx="17" ry="9"/><text class="pt" x="909" y="882">000a</text>
<rect class="t" x="903" y="893" width="40" height="19"/><text class="tt" x="906" y="907">pcreg</text>
<polygon points="912,998 952,978 952,1158 912,1140" fill="#fff" stroke="#000" stroke-width="1.5"/>
<rect x="952" y="988" width="16" height="160" fill="#fff" stroke="#000" stroke-width="1"/>
<text x="919" y="1075" font-size="12">Decd</text>
<g font-size="7"><text x="956" y="995">0</text><text x="956" y="1005">1</text><text x="956" y="1015">2</text><text x="956" y="1025">3</text><text x="956" y="1035">4</text><text x="956" y="1045">5</text><text x="956" y="1055">6</text><text x="956" y="1065">7</text><text x="956" y="1075">8</text><text x="956" y="1085">9</text><text x="954" y="1095">10</text><text x="954" y="1105">11</text><text x="954" y="1115">12</text><text x="954" y="1125">13</text><text x="954" y="1135">14</text><text x="954" y="1145">15</text></g>
<g fill="#404040" stroke="#000">
<circle cx="1003" cy="837" r="9"/><circle cx="1003" cy="857" r="9"/><circle cx="1003" cy="877" r="9"/><circle cx="1003" cy="897" r="9"/><circle cx="1003" cy="917" r="9"/><circle cx="1003" cy="937" r="9"/><circle cx="1003" cy="957" r="9"/><circle cx="1003" cy="977" r="9"/><circle cx="1003" cy="997" r="9"/><circle cx="1003" cy="1017" r="9"/><circle cx="1003" cy="1037" r="9"/><circle cx="1003" cy="1057" r="9"/><circle cx="1003" cy="1077" r="9"/><circle cx="1003" cy="1097" r="9"/><circle cx="1003" cy="1117" r="9"/></g>
<circle cx="1003" cy="1137" r="9" fill="#ee0000" stroke="#000"/>
<g font-size="16">
<text x="1021" y="843">AND Rd, Rd, Rs</text>
<text x="1021" y="863">ORR  Rd, Rd, Rs</text>
<text x="1021" y="878">ADD Rd, Rd, Rs</text>
<text x="1019" y="903">SUB Rd, Rd, Rs</text>
<text x="1021" y="923">LDRH  Rd, [Rs]</text>
<text x="1021" y="943">STRH  Rd, [Rs]</text>
<text x="1021" y="963">MOV Rd, Rs</text>
<text x="1021" y="983">NOP</text>
<text x="1017" y="1003">BEQ Rd, immed</text>
<text x="1019" y="1023">BNE Rd, immed</text>
<text x="1018" y="1043">BGT Rd, immed</text>
<text x="1018" y="1063">BLT Rd, immed</text>
<text x="1020" y="1083">LDRH  Rd, [#immed]</text>
<text x="1021" y="1103">STRH  Rd, [#immed]</text>
<text x="1021" y="1123">MOV  Rd, #immed</text>
<text x="1021" y="1143">B immed</text>
</g>
<g class="tt">
<rect class="t" x="1145" y="914" width="38" height="20"/><text x="1147" y="929">dregs</text>
<rect class="t" x="1184" y="914" width="38" height="20"/><text x="1186" y="929">sregs</text>
<rect class="t" x="1161" y="1024" width="45" height="20"/><text x="1163" y="1039">immed</text>
</g>
<ellipse class="p" cx="1163" cy="948" rx="8" ry="8"/><text class="pt" x="1160" y="952">3</text>
<ellipse class="p" cx="1203" cy="948" rx="8" ry="8"/><text class="pt" x="1200" y="952">3</text>
<ellipse class="p" cx="1183" cy="1058" rx="17" ry="9"/><text class="pt" x="1170" y="1062">0006</text>
<text x="963" y="1175" font-size="14" font-weight="bold" fill="#0000ee">Cmds</text>
<ellipse class="p" cx="1022" cy="1168" rx="17" ry="9"/><text class="pt" x="1013" y="1172">306</text>
<text x="1045" y="1175" font-size="14" font-weight="bold" fill="#0000ee">Cycles</text>
<ellipse class="p" cx="1113" cy="1168" rx="17" ry="9"/><text class="pt" x="1104" y="1172">611</text>
<rect x="1000" y="1190" width="45" height="27" fill="#fff" stroke="#000" stroke-width="2"/><text x="1003" y="1209" font-size="16">cmds</text>
<rect x="1088" y="1190" width="52" height="27" fill="#fff" stroke="#000" stroke-width="2"/><text x="1091" y="1209" font-size="16">cycles</text>
</svg>
</body></html>
